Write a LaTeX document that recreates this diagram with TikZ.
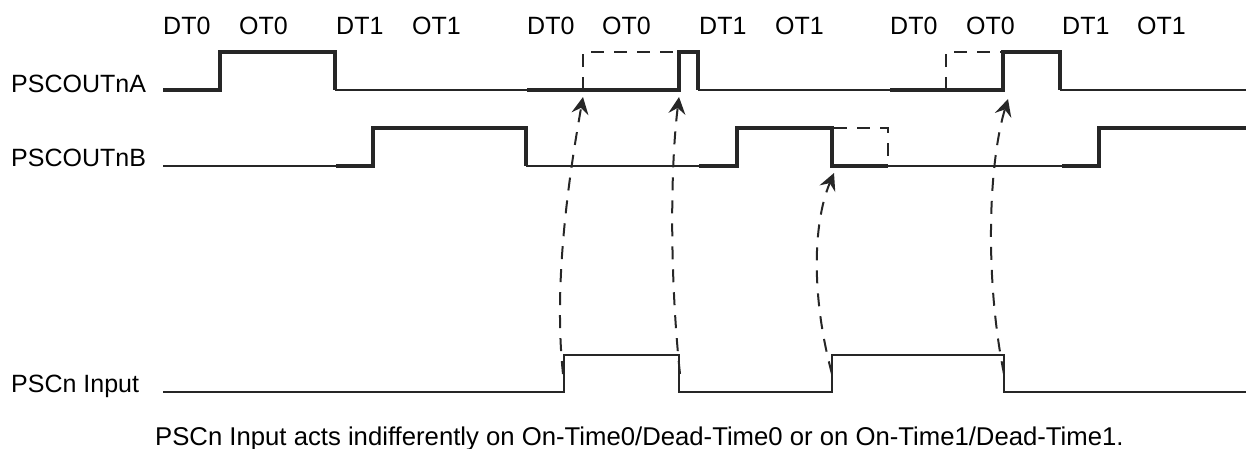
\documentclass[tikz,border=0pt]{standalone}
\usepackage{fontspec}
\setmainfont{Liberation Sans}
\usepackage{xcolor}
\usepackage{tikz}
\usetikzlibrary{arrows.meta}

\begin{document}
\begin{tikzpicture}[
    x=1pt, y=-1pt,
    thin wave/.style={black!85, line width=1.5pt},
    thick wave/.style={black!85, line width=3.5pt, line join=miter},
    input wave/.style={black!85, line width=2.2pt},
    ghost/.style={black!85, line width=2pt, dash pattern=on 13pt off 10pt},
    trigger/.style={ghost, -{Stealth[length=17pt, width=17pt, inset=6pt]}},
    sig label/.style={font=\fontsize{25}{30}\selectfont, anchor=base west, inner sep=0pt}
]

\useasboundingbox (0,0) rectangle (1246,448);

% --- 1. Labels ---
\foreach \x/\txt in {
    163/DT0, 239/OT0, 336/DT1, 412/OT1,
    527/DT0, 602/OT0, 699/DT1, 775/OT1,
    890/DT0, 966/OT0, 1062/DT1, 1137/OT1
}{
    \node[sig label] (phase-\x) at (\x,34) {\txt};
}

\node[sig label] (nameA) at (11,92) {PSCOUTnA};
\node[sig label] (nameB) at (11,166) {PSCOUTnB};
\node[sig label] (nameIn) at (11,392) {PSCn Input};
\node[sig label, font=\fontsize{25.7}{30}\selectfont] (caption) at (155,445)
    {PSCn Input acts indifferently on On-Time0/Dead-Time0 or on On-Time1/Dead-Time1.};

% --- 2. PSCOUTnA ---
\draw[thin wave] (335,90) -- (527,90);
\draw[thin wave] (698,90) -- (890,90);
\draw[thin wave] (1060,90) -- (1246,90);

\draw[thick wave] (163,90) -- (220,90) -- (220,52) -- (335,52) -- (335,90);
\draw[thick wave] (527,90) -- (679,90) -- (679,52) -- (698,52) -- (698,90);
\draw[thick wave] (890,90) -- (1003,90) -- (1003,52) -- (1060,52) -- (1060,90);

% cancelled on-time
\draw[ghost] (583,90) -- (583,52) -- (677,52);
\draw[ghost] (946,90) -- (946,52) -- (1001,52);

% --- 3. PSCOUTnB ---
\draw[thin wave] (163,166) -- (336,166);
\draw[thin wave] (526,166) -- (699,166);
\draw[thin wave] (888,166) -- (1062,166);

\draw[thick wave] (336,166) -- (373,166) -- (373,128) -- (526,128) -- (526,166);
\draw[thick wave] (699,166) -- (737,166) -- (737,128) -- (832,128) -- (832,166) -- (888,166);
\draw[thick wave] (1062,166) -- (1099,166) -- (1099,128) -- (1246,128);

% cancelled on-time
\draw[ghost] (834,128) -- (888,128) -- (888,164);

% --- 4. PSCn Input ---
\draw[input wave] (163,392) -- (564,392) -- (564,355) -- (679,355) -- (679,392)
    -- (832,392) -- (832,355) -- (1004,355) -- (1004,392) -- (1246,392);

% --- 5. Triggers ---
\coordinate (edge1) at (563,374);
\coordinate (edge2) at (680,374);
\coordinate (edge3) at (832,374);
\coordinate (edge4) at (1004,374);

\coordinate (hitA1) at (583,97);
\coordinate (hitA2) at (679,97);
\coordinate (hitB1) at (834,173);
\coordinate (hitA3) at (1008,99);

\draw[trigger] (edge1) .. controls (553,280) and (570,170) .. (hitA1);
\draw[trigger] (edge2) .. controls (670,280) and (670,170) .. (hitA2);
\draw[trigger] (edge3) .. controls (812,300) and (812,225) .. (hitB1);
\draw[trigger] (edge4) .. controls (985,280) and (988,165) .. (hitA3);

\end{tikzpicture}
\end{document}
